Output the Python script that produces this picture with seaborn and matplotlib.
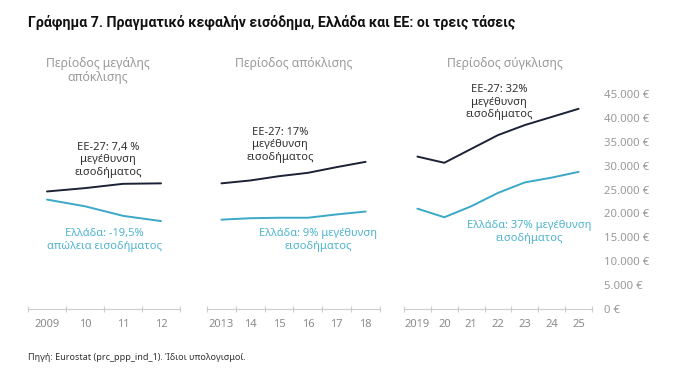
import matplotlib
matplotlib.use("Agg")
import matplotlib.pyplot as plt
import seaborn as sns
import pandas as pd
import numpy as np

sns.set_theme(style="white")
plt.rcParams['font.family'] = ['Noto Sans', 'DejaVu Sans']

# Data (€, real per-capita income)
years_p1 = ["2009", "10", "11", "12"]
eu_p1 = [24600, 25300, 26200, 26300]
gr_p1 = [22900, 21500, 19500, 18400]

years_p2 = ["2013", "14", "15", "16", "17", "18"]
eu_p2 = [26300, 26900, 27800, 28500, 29700, 30800]
gr_p2 = [18700, 19000, 19100, 19100, 19800, 20400]

years_p3 = ["2019", "20", "21", "22", "23", "24", "25"]
eu_p3 = [31900, 30600, 33500, 36400, 38500, 40200, 41900]
gr_p3 = [21000, 19200, 21500, 24300, 26500, 27500, 28700]

y_ticks = [0, 5000, 10000, 15000, 20000, 25000, 30000, 35000, 40000, 45000]
y_labels = ["0 €", "5.000 €", "10.000 €", "15.000 €", "20.000 €", "25.000 €",
            "30.000 €", "35.000 €", "40.000 €", "45.000 €"]

period_titles = ["Περίοδος μεγάλης\nαπόκλισης", "Περίοδος απόκλισης", "Περίοδος σύγκλισης"]
eu_notes = ["ΕΕ-27: 7,4 %\nμεγέθυνση\nεισοδήματος", "ΕΕ-27: 17%\nμεγέθυνση\nεισοδήματος",
            "ΕΕ-27: 32%\nμεγέθυνση\nεισοδήματος"]
gr_notes = ["Ελλάδα: -19,5%\nαπώλεια εισοδήματος", "Ελλάδα: 9% μεγέθυνση\nεισοδήματος",
            "Ελλάδα: 37% μεγέθυνση\nεισοδήματος"]

EU_COLOR = "#1b2236"
GR_COLOR = "#3aa8c6"
NOTE_GR = "#4fb4cf"
GRAY = "#9a9a9a"
W, H = 675, 379

fig = plt.figure(figsize=(6.75, 3.79), dpi=100)
fig.patch.set_facecolor("white")

def fx(px):
    return px / W

def fy(py):
    return 1 - py / H

panels = [
    (years_p1, eu_p1, gr_p1, 28, 180),
    (years_p2, eu_p2, gr_p2, 207, 380),
    (years_p3, eu_p3, gr_p3, 404, 592),
]
y0_px, y45_px = 309, 94
axes = []
for i, (yrs, eu, gr, x0, x1) in enumerate(panels):
    ax = fig.add_axes([fx(x0), fy(y0_px), fx(x1 - x0), (y0_px - y45_px) / H])
    df = pd.DataFrame({
        "pos": list(range(len(yrs))) * 2,
        "value": eu + gr,
        "series": ["ΕΕ-27"] * len(yrs) + ["Ελλάδα"] * len(yrs),
    })
    sns.lineplot(data=df, x="pos", y="value", hue="series",
                 palette={"ΕΕ-27": EU_COLOR, "Ελλάδα": GR_COLOR},
                 linewidth=1.4, legend=False, ax=ax)
    ax.set_xlim(-0.5, len(yrs) - 0.5)
    ax.set_ylim(0, 45000)
    ax.set_xlabel("")
    ax.set_ylabel("")
    for s in ["top", "right", "left"]:
        ax.spines[s].set_visible(False)
    ax.spines["bottom"].set_color("#cccccc")
    ax.spines["bottom"].set_linewidth(0.8)
    ax.set_xticks(np.arange(-0.5, len(yrs), 1.0))
    ax.set_xticklabels([])
    ax.set_xticks(range(len(yrs)), minor=True)
    ax.set_xticklabels(yrs, minor=True)
    ax.tick_params(axis="x", which="major", direction="inout", length=5,
                   color="#cccccc", width=0.8, bottom=True)
    ax.tick_params(axis="x", which="minor", length=0, pad=7,
                   labelsize=8, labelcolor="#8a8a8a")
    ax.set_facecolor("none")
    if i < 2:
        ax.set_yticks([])
    else:
        ax.yaxis.tick_right()
        ax.set_yticks(y_ticks)
        ax.set_yticklabels(y_labels)
        ax.tick_params(axis="y", length=0, pad=9, labelsize=8.2, labelcolor="#999999")
    ax.grid(False)
    axes.append(ax)

# Title
fig.text(fx(28), fy(22), "Γράφημα 7. Πραγματικό κεφαλήν εισόδημα, Ελλάδα και ΕΕ: οι τρεις τάσεις",
         fontsize=10.2, fontweight="bold", family=["Roboto", "DejaVu Sans"],
         color="#111111", va="center", ha="left")

# Period titles
fig.text(fx(98), fy(57), period_titles[0], fontsize=8.8, color=GRAY, ha="center", va="top",
         linespacing=1.05)
fig.text(fx(294), fy(57), period_titles[1], fontsize=8.8, color=GRAY, ha="center", va="top")
fig.text(fx(505), fy(57), period_titles[2], fontsize=8.8, color=GRAY, ha="center", va="top")

# Notes
eu_pos = [(108, 160), (280, 145), (499, 102)]
gr_pos = [(104, 240), (318, 240), (529, 232)]
for t, (x, y) in zip(eu_notes, eu_pos):
    fig.text(fx(x), fy(y), t, fontsize=8, color="#333333", ha="center", va="center",
             linespacing=1.15)
for t, (x, y) in zip(gr_notes, gr_pos):
    fig.text(fx(x), fy(y), t, fontsize=8, color=NOTE_GR, ha="center", va="center",
             linespacing=1.15)

# Source
fig.text(fx(28), fy(357), "Πηγή: Eurostat (prc_ppp_ind_1). Ίδιοι υπολογισμοί.",
         fontsize=6.5, color="#333333", ha="left", va="center")

fig.savefig("out.png", dpi=100, facecolor="white")
